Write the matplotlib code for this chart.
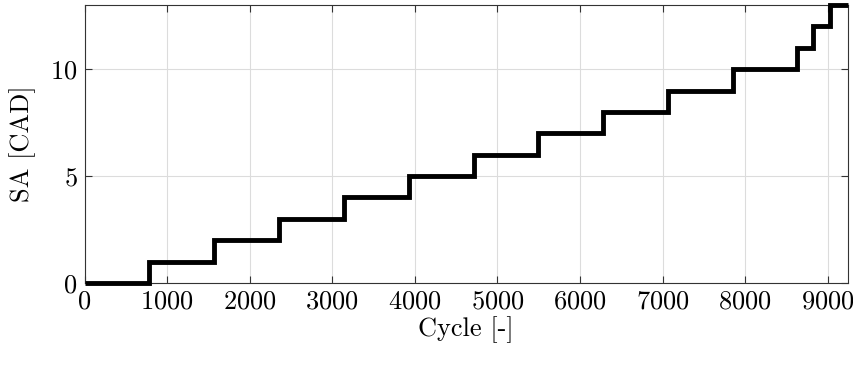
import matplotlib
matplotlib.use("Agg")
import matplotlib.pyplot as plt

# step edges (cycle) and spark advance levels
cycle_edges = [0, 785, 1570, 2355, 3140, 3925, 4710, 5495, 6280, 7065, 7850, 8625, 8820, 9025, 9245]
sa_levels = [0, 1, 2, 3, 4, 5, 6, 7, 8, 9, 10, 11, 12, 13]

plt.rcParams['font.family'] = 'serif'
plt.rcParams['font.serif'] = ['cmr10']
plt.rcParams['mathtext.fontset'] = 'cm'
plt.rcParams['axes.formatter.use_mathtext'] = True

fig = plt.figure(figsize=(8.54, 3.65), dpi=100)
ax = fig.add_axes([0.099, 0.225, 0.894, 0.761])

ax.stairs(sa_levels, cycle_edges, color='black', linewidth=3.5, baseline=None, clip_on=False, zorder=3)

ax.set_xlim(0, cycle_edges[-1])
ax.set_ylim(0, 13)
ax.set_xticks(range(0, 9001, 1000))
ax.set_yticks([0, 5, 10])
ax.grid(True, color='#dcdcdc', linewidth=0.8)
ax.set_axisbelow(True)
ax.tick_params(direction='in', top=True, right=True, labelsize=19, length=5, color='#333333', pad=5)
for s in ax.spines.values():
    s.set_color('#333333')
    s.set_linewidth(0.8)
ax.set_xlabel('Cycle [-]', fontsize=19, labelpad=2)
ax.set_ylabel('SA [CAD]', fontsize=19, labelpad=10)

fig.savefig('out.png', dpi=100)
